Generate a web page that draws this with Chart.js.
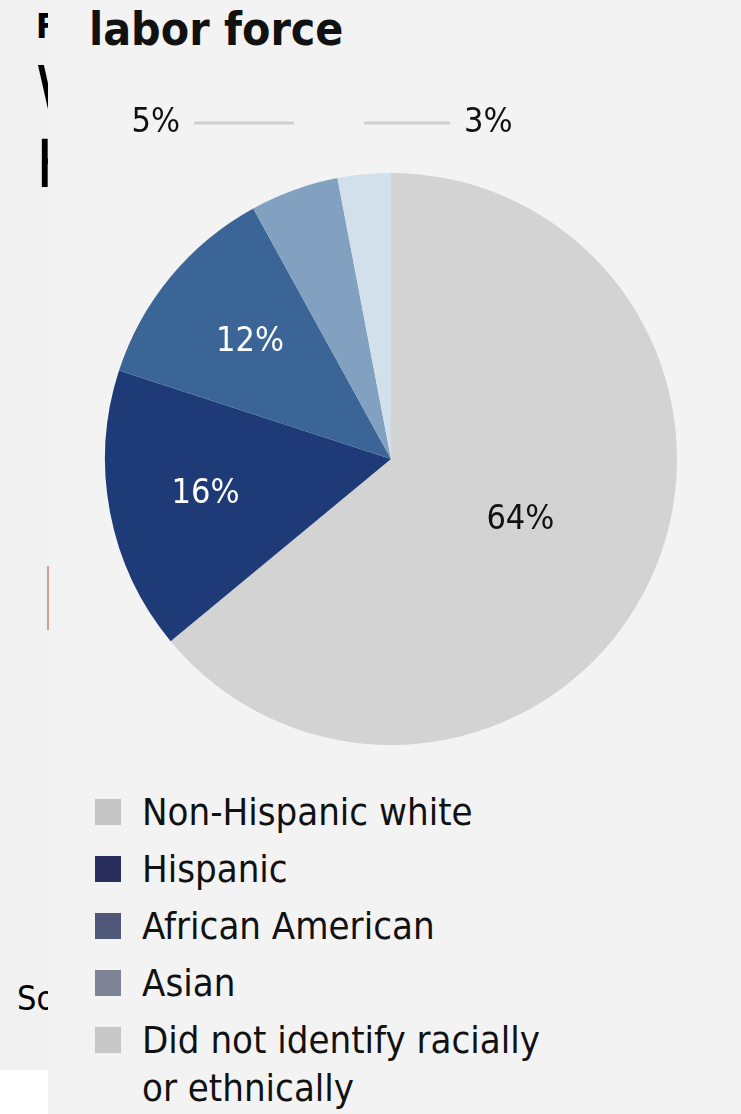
<!DOCTYPE html>
<html>
<head>
<meta charset="utf-8">
<script src="https://cdn.jsdelivr.net/npm/chart.js@4.4.1/dist/chart.umd.min.js"></script>
<style>
  html, body { margin: 0; padding: 0; }
  body { width: 741px; height: 1114px; background: #f1f1f1; position: relative; overflow: hidden;
         font-family: "Liberation Sans Narrow", "DejaVu Sans Condensed", sans-serif; color: #111; }
  .strip { position: absolute; left: 0; top: 0; width: 48px; height: 1114px; overflow: hidden; }
  .strip div { position: absolute; left: 36px; font-weight: bold; white-space: nowrap; color: #000; }
  .strip .white { left: 0; top: 1070px; width: 48px; height: 44px; background: #fff; }
  .redline { position: absolute; left: 47px; top: 566px; width: 3px; height: 64px; background: #d99a9a; }
  .panel { position: absolute; left: 49px; top: 0; width: 692px; height: 1114px; background: #f3f3f3; }
  .title { position: absolute; left: 40px; top: 2px; font-size: 46px; font-weight: bold; color: #111; }
  #chart { position: absolute; left: 0; top: 0; }
  #legend { position: absolute; left: 46px; top: 788px; list-style: none; margin: 0; padding: 0; }
  #legend li { display: flex; align-items: flex-start; font-size: 38px; line-height: 48px; margin-bottom: 9px; }
  #legend .box { width: 26px; height: 26px; margin: 11px 21px 0 0; flex: none; }
  #legend .txt { max-width: 420px; }
</style>
</head>
<body>
<div class="strip">
  <div style="top:6px;font-size:34px;">Fig</div>
  <div style="top:52px;font-size:66px;font-weight:normal;">Wh</div>
  <div style="top:126px;font-size:66px;font-weight:normal;">Hi</div>
  <div style="top:978px;left:17px;font-weight:normal;font-size:34px;">Source</div>
  <div class="white"></div>
</div>
<div class="redline"></div>
<div class="panel">
  <div class="title">labor force</div>
  <canvas id="chart" width="692" height="770"></canvas>
  <ul id="legend"></ul>
</div>
<script>
const categories = ["Non-Hispanic white", "Hispanic", "African American", "Asian", "Did not identify racially or ethnically"];
const shares = [64, 16, 12, 5, 3];
const sliceColors = ["#d3d3d3", "#1e3b78", "#3b6597", "#82a1c0", "#d2e0ec"];
const legendColors = ["#c6c6c6", "#2a2e5c", "#4f5878", "#7e8496", "#c7c7c7"];
const labelColors = ["#111", "#fff", "#fff", "#111", "#111"];
const labelRadius = [0.5, 0.66, 0.64, 1, 1];

const sliceLabels = {
  id: "sliceLabels",
  afterDatasetsDraw(chart) {
    const ctx = chart.ctx;
    const arcs = chart.getDatasetMeta(0).data;
    ctx.save();
    ctx.font = "34px 'Liberation Sans Narrow', 'DejaVu Sans Condensed', sans-serif";
    ctx.textBaseline = "middle";
    arcs.forEach((arc, i) => {
      const p = arc.getProps(["x", "y", "startAngle", "endAngle", "outerRadius"], true);
      const mid = (p.startAngle + p.endAngle) / 2;
      const text = shares[i] + "%";
      if (labelRadius[i] < 1) {
        const r = p.outerRadius * labelRadius[i];
        ctx.fillStyle = labelColors[i];
        ctx.textAlign = "center";
        ctx.fillText(text, p.x + Math.cos(mid) * r, p.y + Math.sin(mid) * r);
      } else {
        // outside label with a horizontal leader line above the pie
        const ox = p.x + Math.cos(mid) * p.outerRadius;
        const ly = chart.chartArea.top - 50;
        const left = i === 3;
        const lineEnd = left ? ox - 100 : ox + 86;
        ctx.strokeStyle = "#cfcfcf";
        ctx.lineWidth = 3;
        ctx.beginPath();
        ctx.moveTo(ox, ly);
        ctx.lineTo(lineEnd, ly);
        ctx.stroke();
        ctx.fillStyle = labelColors[i];
        ctx.textAlign = left ? "right" : "left";
        ctx.fillText(text, left ? lineEnd - 14 : lineEnd + 14, ly);
      }
    });
    ctx.restore();
  }
};

const htmlLegend = {
  id: "htmlLegend",
  afterUpdate(chart) {
    const ul = document.getElementById("legend");
    ul.innerHTML = "";
    const items = chart.options.plugins.legend.labels.generateLabels(chart);
    items.forEach((item, i) => {
      const li = document.createElement("li");
      const box = document.createElement("span");
      box.className = "box";
      box.style.background = legendColors[i];
      const txt = document.createElement("span");
      txt.className = "txt";
      txt.textContent = item.text;
      li.appendChild(box);
      li.appendChild(txt);
      ul.appendChild(li);
    });
  }
};

new Chart(document.getElementById("chart"), {
  type: "pie",
  data: {
    labels: categories,
    datasets: [{
      data: shares,
      backgroundColor: sliceColors,
      borderWidth: 0
    }]
  },
  options: {
    responsive: false,
    animation: false,
    layout: { padding: { top: 173, bottom: 25, left: 0, right: 8 } },
    plugins: {
      legend: { display: false },
      tooltip: { enabled: false }
    }
  },
  plugins: [sliceLabels, htmlLegend]
});
</script>
</body>
</html>
